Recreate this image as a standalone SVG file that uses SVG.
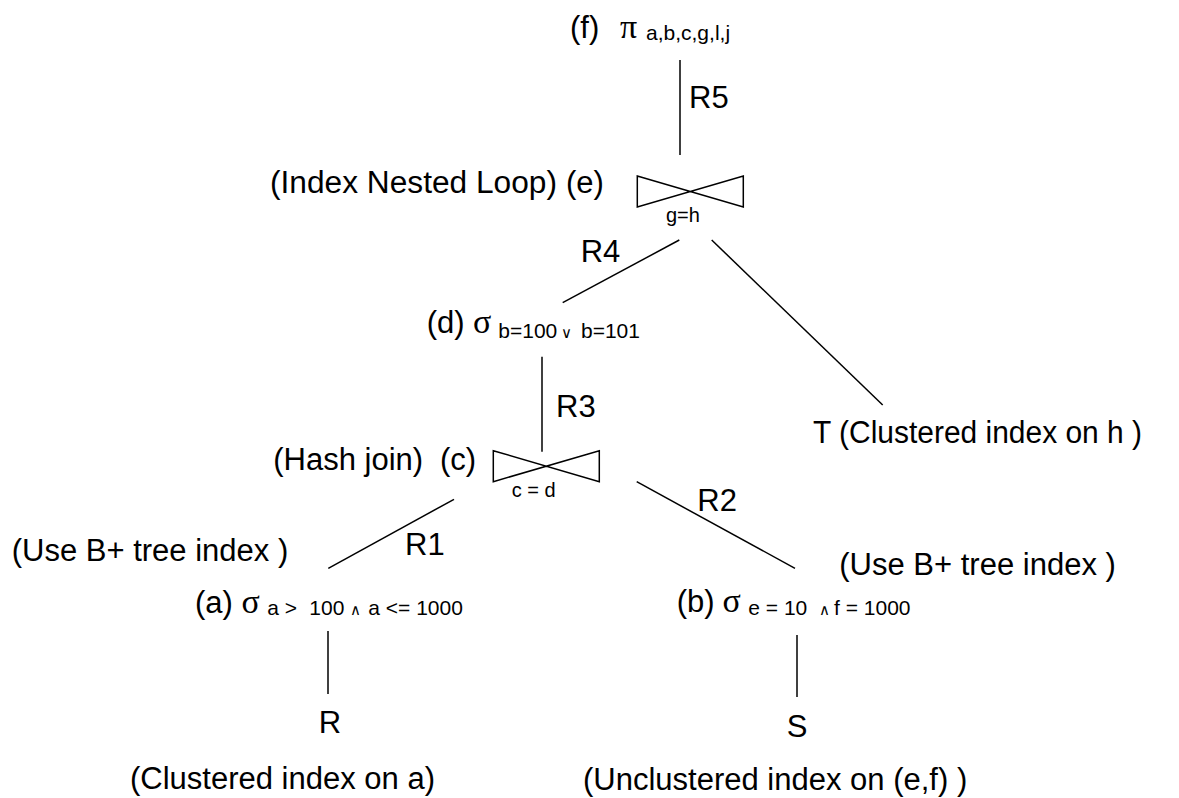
<svg xmlns="http://www.w3.org/2000/svg" width="1179" height="798" viewBox="0 0 1179 798">
<style>
text{font-family:"Liberation Sans",Arial,sans-serif;fill:#000}
.t{font-size:31px}
.s{font-size:21px}
.j{font-size:20px}
.g{font-family:"Liberation Serif","Times New Roman",serif;font-size:34px}
.op{font-family:"DejaVu Sans",sans-serif;font-size:15px}
.ln{stroke:#000;stroke-width:1.5;fill:none}
</style>
<rect width="1179" height="798" fill="#fff"/>
<g id="connectors">
<line class="ln" x1="680" y1="60" x2="680" y2="155"/>
<line class="ln" x1="562.7" y1="302.7" x2="679.3" y2="240"/>
<line class="ln" x1="711.7" y1="240" x2="882.7" y2="405"/>
<line class="ln" x1="542" y1="356.7" x2="542" y2="451.7"/>
<line class="ln" x1="454" y1="499.3" x2="328.3" y2="568.3"/>
<line class="ln" x1="636.7" y1="481.7" x2="795" y2="568.3"/>
<line class="ln" x1="328" y1="631" x2="328" y2="694"/>
<line class="ln" x1="797" y1="635" x2="797" y2="697"/>
<text class="t" x="689" y="108">R5</text>
<text class="t" x="580.7" y="261.7">R4</text>
<text class="t" x="556" y="417.3">R3</text>
<text class="t" x="405" y="555">R1</text>
<text class="t" x="697.3" y="510.7">R2</text>
</g>
<g id="node-f">
<text class="t" x="570" y="38">(f)</text>
<text class="g" x="620" y="38">π</text>
<text class="s" x="646" y="40">a,b,c,g,l,j</text>
</g>
<g id="node-e">
<text class="t" x="270" y="193.3" textLength="287" lengthAdjust="spacingAndGlyphs">(Index Nested Loop)</text>
<text class="t" x="566" y="193.3">(e)</text>
<path class="ln" d="M637.3,176 L743.3,207 L743.3,176 L637.3,207 Z"/>
<text class="j" x="666" y="221.7">g=h</text>
</g>
<g id="node-T">
<text class="t" x="813" y="443.3" textLength="329" lengthAdjust="spacingAndGlyphs">T (Clustered index on h )</text>
</g>
<g id="node-d">
<text class="t" x="426.7" y="333.3">(d)</text>
<text class="g" x="473" y="333.3">σ</text>
<text class="s" x="498.3" y="338.3">b=100</text>
<text class="op" x="561" y="338.3">∨</text>
<text class="s" x="581" y="338.3">b=101</text>
</g>
<g id="node-c">
<text class="t" x="273.3" y="470">(Hash join)</text>
<text class="t" x="440" y="470">(c)</text>
<path class="ln" d="M493.3,450.7 L599.3,481.7 L599.3,450.7 L493.3,481.7 Z"/>
<text class="j" x="511.7" y="496.7">c = d</text>
</g>
<g id="note-left">
<text class="t" x="11.7" y="560.7">(Use B+ tree index )</text>
</g>
<g id="note-right">
<text class="t" x="839.3" y="575">(Use B+ tree index )</text>
</g>
<g id="node-a">
<text class="t" x="195" y="613.3">(a)</text>
<text class="g" x="241.5" y="613.3">σ</text>
<text class="s" x="267.3" y="615">a &gt;</text>
<text class="s" x="309.3" y="615">100</text>
<text class="op" x="350" y="615">∧</text>
<text class="s" x="368.3" y="615">a &lt;= 1000</text>
</g>
<g id="node-b">
<text class="t" x="676.7" y="611.7">(b)</text>
<text class="g" x="722.5" y="611.7">σ</text>
<text class="s" x="748.3" y="615">e = 10</text>
<text class="op" x="819" y="615">∧</text>
<text class="s" x="834" y="615">f = 1000</text>
</g>
<g id="node-R">
<text class="t" x="318.7" y="733">R</text>
<text class="t" x="130" y="789">(Clustered index on a)</text>
</g>
<g id="node-S">
<text class="t" x="786.7" y="736.7">S</text>
<text class="t" x="583" y="790">(Unclustered index on (e,f) )</text>
</g>
</svg>
